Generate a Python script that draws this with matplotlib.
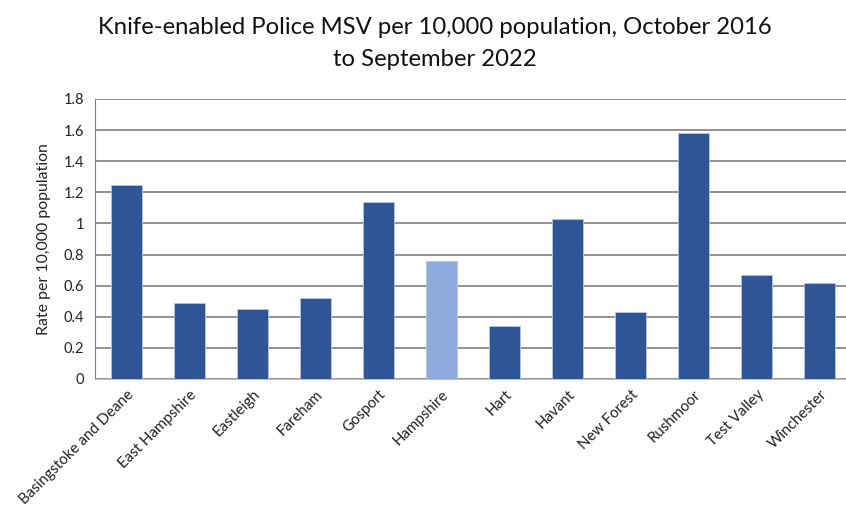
import matplotlib.pyplot as plt
from matplotlib import rcParams

rcParams['font.family'] = ['Lato', 'DejaVu Sans']

areas = ['Basingstoke and Deane', 'East Hampshire', 'Eastleigh', 'Fareham',
         'Gosport', 'Hampshire', 'Hart', 'Havant', 'New Forest', 'Rushmoor',
         'Test Valley', 'Winchester']
rates = [1.25, 0.49, 0.45, 0.52, 1.14, 0.76, 0.34, 1.03, 0.43, 1.58, 0.67, 0.62]
yticks = [0, 0.2, 0.4, 0.6, 0.8, 1, 1.2, 1.4, 1.6, 1.8]
ytick_labels = ['0', '0.2', '0.4', '0.6', '0.8', '1', '1.2', '1.4', '1.6', '1.8']

dark = '#2F5597'
light = '#8FAADC'
colours = [light if a == 'Hampshire' else dark for a in areas]

fig = plt.figure(figsize=(8.46, 5.14), dpi=100)
ax = fig.add_axes([95/846, 135/514, 756/846, 280/514])

x = range(len(areas))
ax.bar(x, rates, width=0.48, color=colours, edgecolor='#B4C7E7', linewidth=0.6, zorder=3)

ax.set_xlim(-0.5, len(areas) - 0.5)
ax.set_ylim(0, 1.8)
ax.set_yticks(yticks)
ax.set_yticklabels(ytick_labels, fontsize=10.5, color='#222222')
ax.set_xticks(list(x))
ax.set_xticklabels(areas, rotation=45, ha='right', rotation_mode='anchor',
                   fontsize=10.8, color='#222222')
ax.tick_params(axis='both', length=0)
ax.tick_params(axis='y', pad=8)
ax.tick_params(axis='x', pad=6)

ax.grid(axis='y', color='#7F7F7F', linewidth=1.2, zorder=0)
for s in ['top', 'right']:
    ax.spines[s].set_visible(False)
ax.spines['left'].set_color('#7F7F7F')
ax.spines['bottom'].set_color('#BFBFBF')

ax.set_ylabel('Rate per 10,000 population', fontsize=11.4, color='#222222', labelpad=9)

fig.text(435/846, 1 - 28/514, 'Knife-enabled Police MSV per 10,000 population, October 2016',
         ha='center', va='center', fontsize=17.2, color='#111111')
fig.text(435/846, 1 - 60/514, 'to September 2022',
         ha='center', va='center', fontsize=17.2, color='#111111')

fig.savefig('out.png', dpi=100)
